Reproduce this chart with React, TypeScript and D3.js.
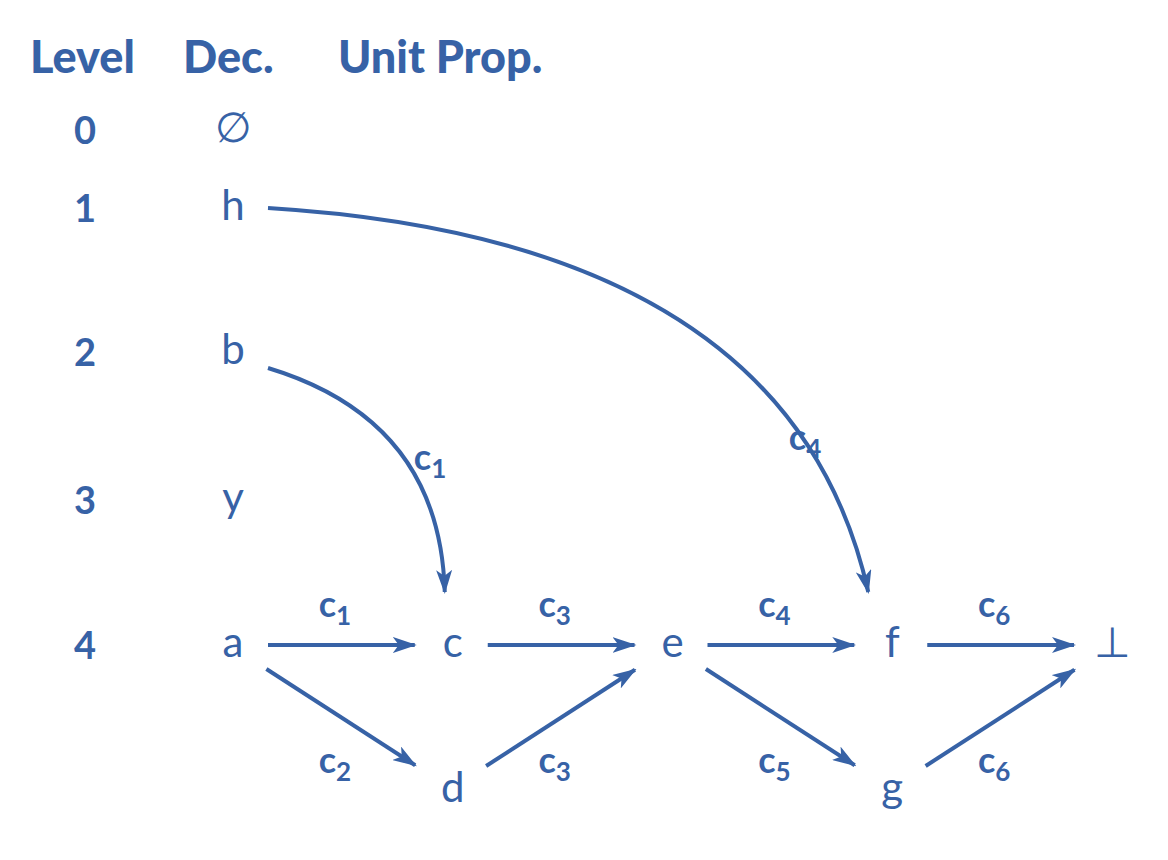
import React from "react";
import * as d3 from "d3";

const levels = ["0", "1", "2", "3", "4"];
const decisions = ["∅", "h", "b", "y", "a"];
const headers = ["Level", "Dec.", "Unit Prop."];
// nodes: name, column, row ("top" = level 4, "bottom" = below)
const nodes = [
  { id: "a", col: 0, row: "top" },
  { id: "c", col: 1, row: "top" },
  { id: "d", col: 1, row: "bottom" },
  { id: "e", col: 2, row: "top" },
  { id: "f", col: 3, row: "top" },
  { id: "g", col: 3, row: "bottom" },
  { id: "⊥", col: 4, row: "top" },
];
const edges = [
  { from: "a", to: "c", label: "1" },
  { from: "a", to: "d", label: "2" },
  { from: "c", to: "e", label: "3" },
  { from: "d", to: "e", label: "3" },
  { from: "e", to: "f", label: "4" },
  { from: "e", to: "g", label: "5" },
  { from: "f", to: "⊥", label: "6" },
  { from: "g", to: "⊥", label: "6" },
];
const curves = [
  { fromLevel: 2, to: "c", label: "1" },
  { fromLevel: 1, to: "f", label: "4" },
];

const BLUE = "#3762a6";
const colX = d3.scaleLinear().domain([0, 4]).range([233, 1112]);
const levelY = d3.scaleLinear().domain([0, 1, 2, 3, 4]).range([130, 208, 352, 500, 645]);
const rowY = (r: string) => (r === "top" ? levelY(4) : 790);

export default function App() {
  const pos = (id: string) => {
    const n = nodes.find((d) => d.id === id)!;
    return { x: colX(n.col), y: rowY(n.row) };
  };
  return (
    <svg width={1168} height={860} style={{ display: "block", margin: -8 }}>
      <defs>
        <marker id="arr" viewBox="0 0 24 16" refX="22" refY="8" markerWidth="24" markerHeight="16" markerUnits="userSpaceOnUse" orient="auto">
          <path d="M0,0 L24,8 L0,16 L6,8 Z" fill={BLUE} />
        </marker>
      </defs>
      <g fontFamily="Lato, 'Open Sans', sans-serif" fill={BLUE}>
        {headers.map((h, i) => (
          <text key={h} x={[30, 183, 338][i]} y={73} fontSize={45} fontWeight={900}>{h}</text>
        ))}
        {levels.map((l, i) => (
          <text key={l} x={85} y={levelY(i) + 14} fontSize={38} fontWeight={700} textAnchor="middle">{l}</text>
        ))}
        {decisions.map((d, i) => (
          <text key={i} x={233} y={levelY(i) + 12} fontSize={42} textAnchor="middle">{d}</text>
        ))}
        {nodes.filter((n) => n.id !== "a").map((n) => (
          <text key={n.id} x={pos(n.id).x} y={pos(n.id).y + 12} fontSize={42} textAnchor="middle">{n.id}</text>
        ))}
        {edges.map((e, i) => {
          const a = pos(e.from), b = pos(e.to);
          const dx = b.x - a.x, dy = b.y - a.y;
          const len = Math.hypot(dx, dy);
          const ux = dx / len, uy = dy / len;
          const s0 = dy === 0 ? 35 : 40, s1 = dy === 0 ? 38 : 45;
          const x1 = a.x + ux * s0, y1 = a.y + uy * s0 + (dy > 0 ? 2 : dy < 0 ? -2 : 0);
          const x2 = b.x - ux * s1, y2 = b.y - uy * s1;
          const mx = (a.x + b.x) / 2, my = (a.y + b.y) / 2;
          const ly = dy === 0 ? my - 28 : my + 55;
          return (
            <g key={i}>
              <line x1={x1} y1={y1} x2={x2} y2={y2} stroke={BLUE} strokeWidth={4} markerEnd="url(#arr)" />
              <text x={mx - 8} y={ly} fontSize={36} fontWeight={700} textAnchor="middle">
                c<tspan fontSize={26} dy={8}>{e.label}</tspan>
              </text>
            </g>
          );
        })}
        {curves.map((c, i) => {
          const sx = 268, sy = levelY(c.fromLevel) + (c.fromLevel === 2 ? 16 : 0);
          const t = pos(c.to);
          const ex = c.fromLevel === 2 ? t.x - 8 : t.x - 24, ey = t.y - 53;
          const cx = c.fromLevel === 2 ? 440 : 790, cy = c.fromLevel === 2 ? 420 : 240;
          const p = d3.path();
          p.moveTo(sx, sy);
          p.quadraticCurveTo(cx, cy, ex, ey);
          const lx = c.fromLevel === 2 ? 430 : 805, ly = c.fromLevel === 2 ? 470 : 450;
          return (
            <g key={i}>
              <path d={p.toString()} fill="none" stroke={BLUE} strokeWidth={4} markerEnd="url(#arr)" />
              <text x={lx} y={ly} fontSize={36} fontWeight={700} textAnchor="middle">
                c<tspan fontSize={26} dy={8}>{c.label}</tspan>
              </text>
            </g>
          );
        })}
      </g>
    </svg>
  );
}
